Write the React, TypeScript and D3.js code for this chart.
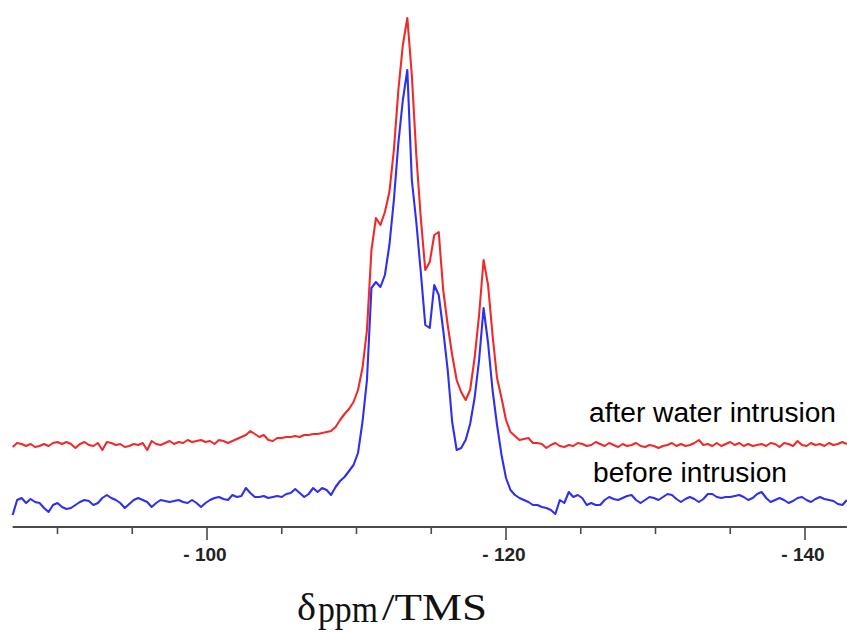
import React from "react";
import * as d3 from "d3";

// Chemical shift sampling grid (ppm), one value per sample
const PPM_START = -87;
const PPM_STEP = -0.3;

// Intensity (arbitrary units) – before water intrusion (blue)
const beforeIntrusion = [
  2.4, 5.4, 5.8, 4.8, 5.6, 5.0, 4.8, 3.8, 3.0, 4.4,
  4.8, 4.0, 3.6, 3.8, 4.4, 5.0, 5.4, 5.2, 4.4, 4.8,
  5.8, 6.4, 5.8, 5.4, 4.8, 3.8, 4.6, 5.4, 5.8, 5.4,
  5.0, 4.0, 4.8, 5.4, 5.2, 5.0, 5.2, 5.4, 5.0, 4.8,
  5.4, 4.8, 4.0, 4.8, 5.4, 5.8, 6.0, 5.6, 5.4, 6.4,
  6.0, 6.2, 7.8, 6.8, 6.0, 6.0, 6.2, 5.8, 6.0, 6.2,
  6.0, 6.6, 6.8, 7.6, 6.8, 6.0, 6.6, 7.8, 7.0, 7.8,
  7.4, 6.4, 8.0, 9.2, 10.0, 11.2, 12.4, 14.8, 21.0, 29.4,
  47.8, 49.0, 48.0, 50.4, 56.4, 65.4, 76.8, 85.4, 91.4, 69.4,
  61.0, 51.0, 40.4, 39.8, 48.4, 46.4, 39.4, 31.4, 21.0, 15.4,
  15.8, 17.4, 20.6, 25.8, 33.4, 43.8, 36.8, 27.4, 20.4, 14.4,
  9.8, 7.4, 6.4, 5.8, 5.4, 5.0, 4.4, 4.4, 4.0, 3.8,
  3.4, 2.6, 5.4, 4.8, 7.0, 6.0, 6.4, 5.8, 4.4, 4.8,
  4.4, 4.4, 5.4, 6.0, 5.6, 5.4, 5.8, 6.2, 6.4, 5.4,
  4.8, 5.4, 6.0, 5.8, 5.4, 6.0, 6.6, 6.4, 5.6, 5.0,
  5.6, 6.0, 5.6, 5.0, 5.6, 6.6, 6.6, 6.0, 5.8, 6.0,
  6.0, 6.2, 6.4, 6.0, 5.4, 5.8, 6.6, 7.0, 5.8, 5.0,
  5.4, 5.8, 5.4, 4.8, 5.2, 5.8, 6.0, 5.4, 5.0, 5.6,
  6.0, 5.6, 5.4, 5.2, 4.6, 4.4, 5.4,
];

// Intensity (arbitrary units) – after water intrusion (red)
const afterIntrusion = [
  16.0, 16.8, 16.6, 16.2, 16.6, 16.0, 16.2, 16.6, 16.2, 16.8,
  17.0, 16.6, 17.0, 16.6, 15.8, 16.6, 17.0, 16.4, 16.2, 16.8,
  15.4, 17.0, 16.8, 16.4, 16.6, 16.0, 16.2, 16.6, 16.4, 16.8,
  15.4, 17.2, 16.6, 16.4, 16.8, 17.2, 16.6, 17.0, 16.8, 17.4,
  17.0, 17.2, 17.4, 17.0, 17.2, 16.6, 17.4, 17.2, 16.8, 17.2,
  17.6, 18.0, 18.4, 19.2, 18.6, 18.0, 18.4, 17.4, 17.2, 17.8,
  17.8, 18.0, 18.0, 18.2, 18.0, 18.4, 18.4, 18.6, 18.6, 18.8,
  19.0, 19.2, 20.0, 21.4, 22.6, 23.6, 25.0, 27.4, 31.8, 39.4,
  55.4, 61.8, 60.4, 63.0, 67.0, 75.4, 87.4, 96.4, 101.8, 90.4,
  74.4, 61.8, 51.4, 53.0, 58.4, 59.0, 47.4, 40.4, 34.4, 29.4,
  27.0, 25.4, 27.4, 33.8, 42.4, 53.4, 48.4, 38.4, 29.8, 25.8,
  21.4, 19.0, 18.2, 17.4, 17.6, 17.8, 16.8, 16.8, 16.6, 15.8,
  16.4, 16.8, 16.2, 16.0, 16.4, 16.2, 16.8, 16.6, 16.2, 16.4,
  17.0, 16.6, 16.2, 16.8, 16.4, 16.0, 16.6, 16.2, 16.4, 16.8,
  16.2, 16.0, 16.4, 16.2, 15.8, 16.2, 16.4, 16.8, 16.2, 16.6,
  16.2, 16.4, 16.8, 17.4, 16.4, 16.6, 16.2, 16.8, 16.2, 16.6,
  17.0, 16.4, 16.8, 16.2, 16.6, 16.2, 16.4, 16.6, 16.2, 16.8,
  16.6, 16.0, 16.8, 16.6, 16.2, 17.2, 16.4, 16.2, 16.8, 16.4,
  16.6, 16.2, 16.8, 16.4, 16.6, 17.0, 16.6,
];

const tickValues = [-90, -95, -100, -105, -110, -115, -120, -125, -130, -135, -140];
const labeledTicks = [-100, -120, -140];
const seriesLabels = ["after water intrusion", "before intrusion"];
const axisExtent = [-87, -142.8];

export default function App() {
  const W = 847;
  const H = 633;
  const x = d3.scaleLinear().domain([-100, -140]).range([207, 805]);
  const y = d3.scaleLinear().domain([0, 100]).range([527, 27]);
  const ppm = beforeIntrusion.map((_, i) => PPM_START + i * PPM_STEP);
  const line = d3
    .line<number>()
    .x((_, i) => x(ppm[i]))
    .y((d) => y(d))
    .curve(d3.curveLinear);

  const axisY = 527;

  return (
    <div style={{ position: "absolute", left: 0, top: 0, width: W, height: H, background: "#fff" }}>
      <svg width={W} height={H} viewBox={`0 0 ${W} ${H}`}>
        <rect x={0} y={0} width={W} height={H} fill="#fff" />
        <path d={line(afterIntrusion) || ""} fill="none" stroke="#f02a2a" strokeWidth={2.1} strokeLinejoin="round" />
        <path d={line(beforeIntrusion) || ""} fill="none" stroke="#2f2fee" strokeWidth={2.1} strokeLinejoin="round" />

        {/* x axis */}
        <line x1={x(axisExtent[0])} x2={x(axisExtent[1])} y1={axisY} y2={axisY} stroke="#4a4a4a" strokeWidth={2} />
        {tickValues.map((t) => {
          const major = labeledTicks.includes(t);
          return (
            <line key={t} x1={x(t)} x2={x(t)} y1={axisY} y2={axisY + (major ? 13 : 7)} stroke="#4a4a4a" strokeWidth={1.6} />
          );
        })}
        {labeledTicks.map((t) => (
          <text
            key={t}
            x={x(t) - 2}
            y={561}
            textAnchor="middle"
            fontFamily="'Liberation Sans', Arial, sans-serif"
            fontWeight="bold"
            fontSize={19}
            fill="#222"
          >
            {"- " + Math.abs(t)}
          </text>
        ))}

        {/* series labels */}
        <text x={589} y={422} fontFamily="'Liberation Sans', Arial, sans-serif" fontSize={27} fill="#000" textLength={247} lengthAdjust="spacingAndGlyphs">
          {seriesLabels[0]}
        </text>
        <text x={593} y={482} fontFamily="'Liberation Sans', Arial, sans-serif" fontSize={27} fill="#000" textLength={194} lengthAdjust="spacingAndGlyphs">
          {seriesLabels[1]}
        </text>

        {/* axis title */}
        <text y={620} fontFamily="'Liberation Serif', 'DejaVu Serif', serif" fontSize={37} fill="#111">
          <tspan x={297} textLength={19} lengthAdjust="spacingAndGlyphs">δ</tspan>
          <tspan x={318} dy={2} textLength={60} lengthAdjust="spacingAndGlyphs">ppm</tspan>
          <tspan x={382} dy={-2} textLength={105} lengthAdjust="spacingAndGlyphs">/TMS</tspan>
        </text>
      </svg>
    </div>
  );
}
